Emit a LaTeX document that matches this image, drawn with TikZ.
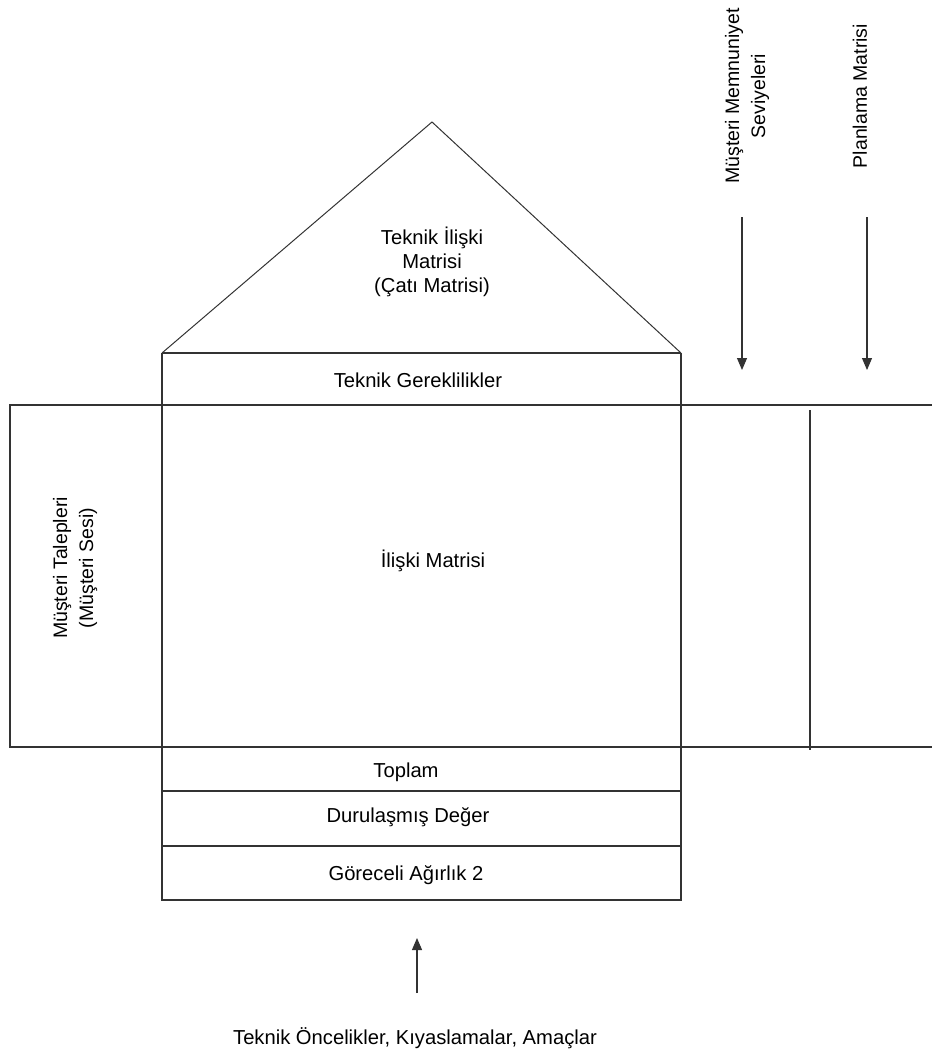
\documentclass[tikz,border=0pt]{standalone}
\usepackage{fontspec}
\setmainfont{Liberation Sans}
\usetikzlibrary{arrows.meta}
\begin{document}
\begin{tikzpicture}[x=1pt,y=-1pt,
  ln/.style={line width=1.1pt, draw=black!80},
  lbl/.style={font=\fontsize{20.2}{24}\selectfont, align=center, inner sep=0pt, text=black},
  rlbl/.style={lbl, font=\fontsize{19.5}{26}\selectfont, rotate=90},
  arr/.style={ln, -{Triangle[length=12pt,width=10pt]}}]
\useasboundingbox (0,0) rectangle (931,1054);
% roof
\coordinate (apex) at (432,122);
\coordinate (rl) at (162,353);
\coordinate (rr) at (681,353);
\draw[ln, line width=1pt] (rl) -- (apex) -- (rr);
% central column
\draw[ln] (rl) -- (rr);
\draw[ln] (rl) -- (162,900) -- (681,900) -- (rr);
\draw[ln] (162,791) -- (681,791);
\draw[ln] (162,846) -- (681,846);
% wide band
\draw[ln] (932,405) -- (10,405) -- (10,747) -- (932,747);
\draw[ln] (810,410) -- (810,750);
% texts
\node[lbl] (roof) at (432,262) {Teknik İlişki\\Matrisi\\(Çatı Matrisi)};
\node[lbl] (tg) at (418,380) {Teknik Gereklilikler};
\node[lbl] (im) at (433,561) {İlişki Matrisi};
\node[lbl] (top) at (406,772) {Toplam};
\node[lbl] (dd) at (408,817) {Durulaşmış Değer};
\node[lbl] (ga) at (406,875) {Göreceli Ağırlık 2};
\node[lbl] (bt) at (415,1038) {Teknik Öncelikler, Kıyaslamalar, Amaçlar};
\node[rlbl] (mt) at (75,568) {Müşteri Talepleri\\(Müşteri Sesi)};
\node[rlbl] (mm) at (747,96) {Müşteri Memnuniyet\\Seviyeleri};
\node[rlbl] (pm) at (860,96) {Planlama Matrisi};
% arrows
\coordinate (a1s) at (742,217);
\coordinate (a1e) at (742,370);
\coordinate (a2s) at (867,217);
\coordinate (a2e) at (867,370);
\coordinate (a3s) at (417,993);
\coordinate (a3e) at (417,938);
\draw[arr] (a1s) -- (a1e);
\draw[arr] (a2s) -- (a2e);
\draw[arr] (a3s) -- (a3e);
\end{tikzpicture}
\end{document}
